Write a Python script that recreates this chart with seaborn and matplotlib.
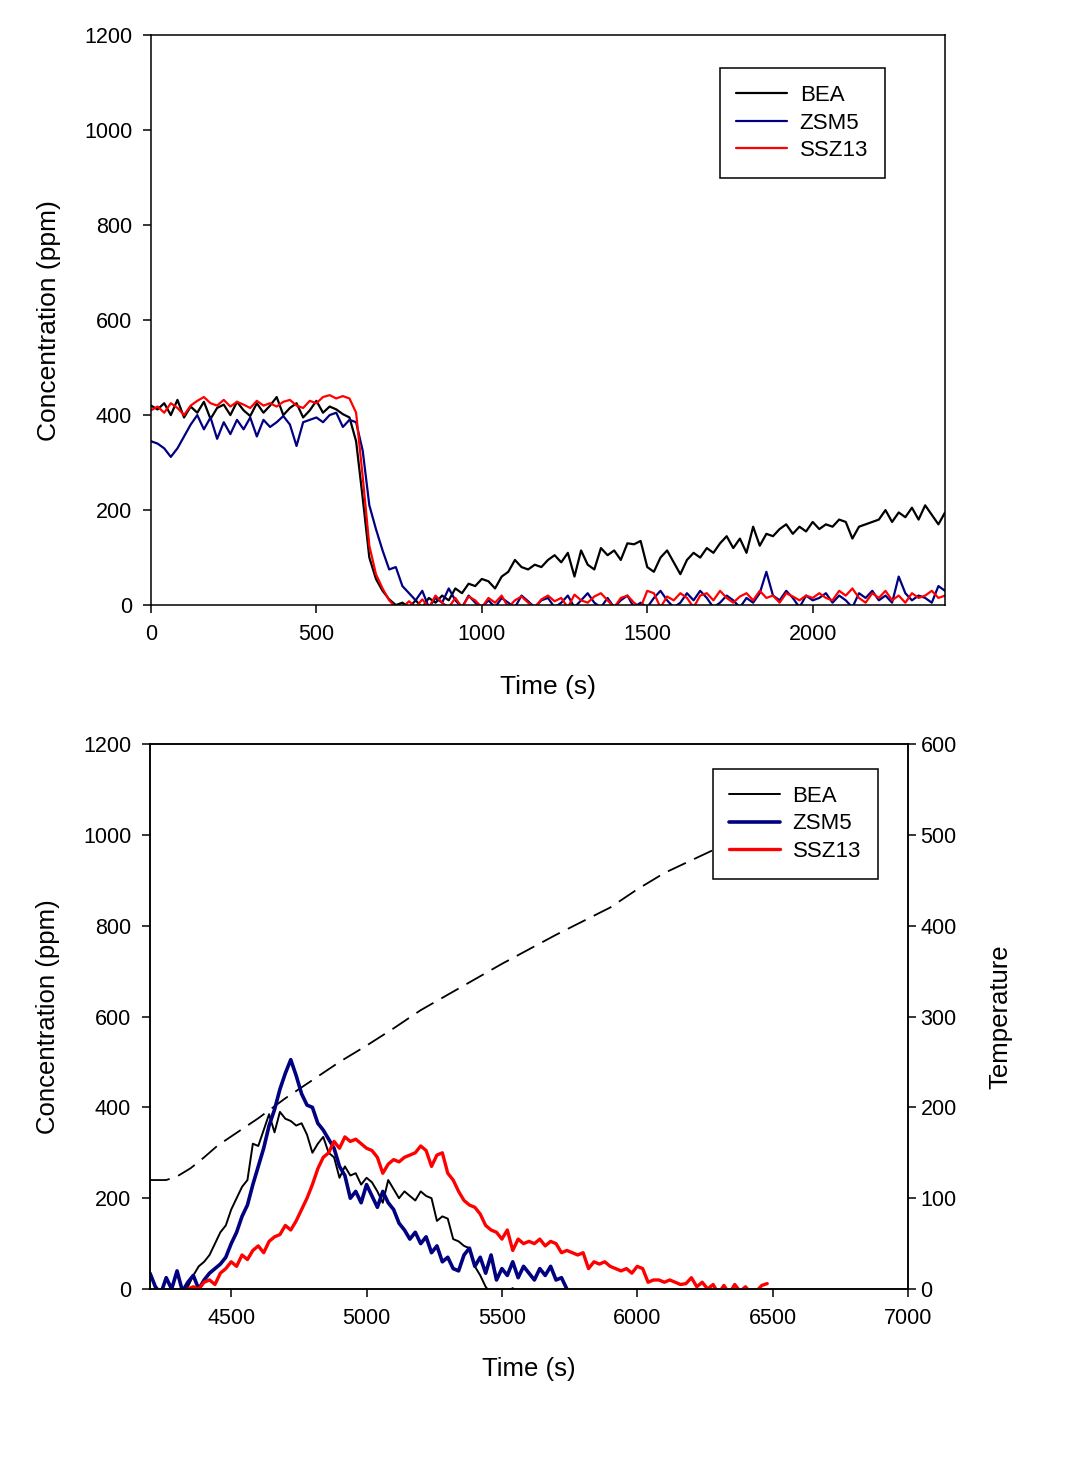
import numpy as np
import pandas as pd
import matplotlib
matplotlib.use("Agg")
import matplotlib.pyplot as plt
import seaborn as sns
from matplotlib.lines import Line2D

# ---------------- data: top panel (adsorption) ----------------
top_time = list(range(0, 2401, 20))

top_bea = [420, 412, 425, 400, 432, 395, 418, 405, 428, 392, 415, 422, 400, 428, 410,
           398, 425, 405, 420, 438, 400, 415, 425, 395, 410, 430, 405, 418, 412, 402,
           395, 345, 225, 100, 55, 30, 12, 0, 5, -5,
           10, -5, 15, 5, 20, 10, 35, 25, 45, 40, 55,
           50, 35, 60, 70, 95, 80, 75, 85, 80, 95,
           105, 90, 110, 60, 115, 85, 75, 120, 105, 115,
           95, 130, 128, 135, 80, 70, 100, 115, 90, 65,
           95, 110, 100, 120, 110, 130, 145, 120, 140, 110,
           165, 125, 150, 145, 160, 170, 150, 165, 155, 175,
           160, 170, 165, 180, 175, 140, 165, 170, 175, 180,
           200, 175, 195, 185, 205, 180, 210, 190, 170, 195]

top_zsm5 = [345, 340, 330, 312, 330, 355, 380, 400, 370, 395, 350, 385, 360, 390, 370,
            395, 355, 390, 375, 385, 398, 380, 335, 385, 390, 395, 385, 400, 405, 375,
            390, 385, 325, 210, 160, 115, 75, 80, 40, 25,
            10, 30, -5, 15, 5, 35, 10, -5, 20, 5, -5,
            10, -5, 15, 5, -5, 20, 8, -5, 10, 15,
            -5, 5, 20, -5, 10, 25, 5, -5, 15, -5,
            10, 20, -5, 5, -5, 15, 30, 10, -5, 5,
            25, 10, 30, 15, -5, 5, 20, 10, -5, 15,
            5, 25, 70, 20, 10, 30, 15, -5, 20, 10,
            15, 25, 5, 20, 10, -5, 25, 15, 30, 10,
            20, 5, 60, 25, 10, 20, 15, 5, 40, 30]

top_ssz13 = [410, 418, 405, 425, 415, 400, 420, 430, 438, 425, 420, 432, 418, 428, 422,
             415, 430, 420, 425, 418, 428, 432, 420, 415, 430, 425, 438, 442, 435, 440,
             435, 405, 270, 125, 65, 35, 10, -5, -5, 8,
             -5, 12, -5, 20, 5, -5, 15, -5, 18, 10, -5,
             15, 5, 20, -5, 10, 18, 5, -5, 12, 20,
             8, 15, -5, 22, 10, 5, 18, 25, 10, -5,
             15, 20, 5, -5, 30, 25, -5, 18, 10, 25,
             15, -5, 20, 25, 10, 30, 15, 5, 18, 25,
             10, 30, 15, 20, 5, 25, 18, 10, 20, 15,
             25, 15, 10, 30, 20, 35, 15, 5, 25, 15,
             30, 10, 20, 5, 25, 15, 20, 30, 15, 20]

# ---------------- data: bottom panel (TPD) ----------------
bot_time = list(range(4200, 6501, 20))
N = None
bot_bea = [-10, -5, -10, -5, -10, -5, 0, 5, 30, 50,
           60, 75, 100, 125, 140, 175, 200, 225, 240, 320,
           315, 350, 385, 345, 390, 375, 370, 360, 365, 340,
           300, 320, 335, 300, 290, 245, 270, 250, 255, 230,
           245, 235, 215, 190, 240, 220, 200, 215, 205, 195,
           215, 205, 200, 150, 160, 155, 110, 105, 95, 90,
           50, 30, 5, -10, 0, -10, -5, 2, -10] + [N] * 47

bot_zsm5 = [35, 5, -10, 25, 0, 40, -5, 15, 30, 0,
            20, 35, 45, 55, 70, 100, 125, 160, 185, 230,
            270, 310, 360, 395, 440, 475, 505, 470, 430, 405,
            400, 365, 350, 330, 310, 270, 250, 200, 215, 190,
            230, 205, 180, 215, 190, 175, 145, 130, 110, 125,
            100, 115, 80, 95, 60, 70, 45, 40, 75, 90,
            50, 70, 35, 75, 20, 45, 30, 60, 25, 50,
            35, 20, 45, 30, 50, 20, 25, 0] + [N] * 38

bot_ssz13 = [N, N, N, N, N, N, -5, 0, 5, 0,
             15, 20, 10, 35, 45, 60, 50, 75, 65, 85,
             95, 80, 105, 115, 120, 140, 130, 150, 175, 200,
             230, 265, 290, 300, 325, 310, 335, 325, 330, 320,
             310, 305, 290, 255, 275, 285, 280, 290, 295, 300,
             315, 305, 270, 295, 300, 255, 240, 215, 195, 185,
             180, 165, 140, 130, 125, 110, 130, 85, 110, 100,
             105, 100, 110, 95, 105, 100, 80, 85, 80, 75,
             80, 45, 60, 55, 60, 50, 45, 40, 45, 35,
             50, 45, 15, 20, 20, 15, 20, 15, 10, 12,
             25, 5, 15, 0, 10, -10, 8, -10, 10, -5,
             5, -10, -5, 8, 12, N]

temp_time = [4200, 4260, 4300, 4350, 4400, 4450, 4500, 4600, 4700, 4800, 4900, 5000,
             5100, 5200, 5300, 5400, 5500, 5600, 5700, 5800, 5900, 6000, 6100, 6200,
             6300, 6350]
temp_vals = [120, 120, 124, 133, 145, 158, 168, 188, 210, 230, 250, 268,
             287, 307, 324, 341, 358, 374, 390, 405, 420, 440, 458, 472,
             486, 494]

labels = ["BEA", "ZSM5", "SSZ13"]
colors = {"BEA": "#000000", "ZSM5": "#000080", "SSZ13": "#ff0000"}

# ---------------- style ----------------
sns.set_style("ticks")
plt.rcParams["font.family"] = ["Liberation Sans", "DejaVu Sans"]
plt.rcParams["axes.linewidth"] = 1.1
plt.rcParams["xtick.major.width"] = 1.1
plt.rcParams["ytick.major.width"] = 1.1
plt.rcParams["xtick.major.size"] = 6
plt.rcParams["ytick.major.size"] = 6
plt.rcParams["xtick.major.pad"] = 7.5
plt.rcParams["ytick.major.pad"] = 7.5
plt.rcParams["xtick.color"] = "black"
plt.rcParams["ytick.color"] = "black"
plt.rcParams["axes.edgecolor"] = "black"
plt.rcParams["axes.labelcolor"] = "black"
plt.rcParams["text.color"] = "black"

fig = plt.figure(figsize=(10.9, 14.64), dpi=100)

leg_kw = dict(fontsize=16, frameon=True, fancybox=False, edgecolor="black",
              framealpha=1, handlelength=2.3, labelspacing=0.3,
              borderpad=0.75, handletextpad=0.55, borderaxespad=0)

# ---------------- top panel ----------------
ax1 = fig.add_axes([0.1385, 0.5867, 0.7285, 0.3893])
n = len(top_time)
df_top = pd.DataFrame({
    "Time": top_time * 3,
    "Conc": top_bea + top_zsm5 + top_ssz13,
    "Sample": ["BEA"] * n + ["ZSM5"] * n + ["SSZ13"] * n,
})
sns.lineplot(data=df_top, x="Time", y="Conc", hue="Sample", hue_order=labels,
             palette=colors, estimator=None, sort=False, linewidth=1.6,
             legend=False, ax=ax1)
ax1.set_xlim(0, 2400)
ax1.set_ylim(0, 1200)
ax1.set_xticks([0, 500, 1000, 1500, 2000])
ax1.set_yticks([0, 200, 400, 600, 800, 1000, 1200])
ax1.tick_params(labelsize=15.5, top=False, right=False)
ax1.set_xlabel("Time (s)", fontsize=19, labelpad=22)
ax1.set_ylabel("Concentration (ppm)", fontsize=19, labelpad=16.5)
handles1 = [Line2D([], [], color=colors[k], lw=1.6) for k in labels]
leg1 = ax1.legend(handles1, labels, loc="upper right", bbox_to_anchor=(0.924, 0.942),
                  **leg_kw)
leg1.get_frame().set_linewidth(1.1)

# ---------------- bottom panel ----------------
ax2 = fig.add_axes([0.1376, 0.1195, 0.6954, 0.3723])
ax2t = ax2.twinx()

widths = {"BEA": 1.4, "ZSM5": 2.6, "SSZ13": 2.4}
series = {"BEA": bot_bea, "ZSM5": bot_zsm5, "SSZ13": bot_ssz13}
for k in labels:
    d = pd.DataFrame({"Time": bot_time, "Conc": series[k]}).dropna()
    sns.lineplot(data=d, x="Time", y="Conc", color=colors[k], linewidth=widths[k],
                 estimator=None, sort=False, ax=ax2)

dt = pd.DataFrame({"Time": temp_time, "Temp": temp_vals})
sns.lineplot(data=dt, x="Time", y="Temp", color="black", linewidth=1.3,
             estimator=None, sort=False, ax=ax2t)
ax2t.lines[0].set_dashes([11, 5])

ax2.set_zorder(ax2t.get_zorder() + 1)
ax2.patch.set_visible(False)

ax2.set_xlim(4200, 7000)
ax2.set_ylim(0, 1200)
ax2t.set_ylim(0, 600)
ax2.set_xticks([4500, 5000, 5500, 6000, 6500, 7000])
ax2.set_yticks([0, 200, 400, 600, 800, 1000, 1200])
ax2t.set_yticks([0, 100, 200, 300, 400, 500, 600])
ax2.tick_params(labelsize=15.5, top=False, right=False)
ax2t.tick_params(labelsize=15.5, right=True, pad=3)
ax2.set_xlabel("Time (s)", fontsize=18.5, labelpad=20)
ax2.set_ylabel("Concentration (ppm)", fontsize=18.5, labelpad=16.5)
ax2t.set_ylabel("Temperature", fontsize=18.5, labelpad=22.5)
handles2 = [Line2D([], [], color=colors[k], lw=widths[k]) for k in labels]
leg2 = ax2.legend(handles2, labels, loc="upper right", bbox_to_anchor=(0.960, 0.954),
                  **leg_kw)
leg2.get_frame().set_linewidth(1.1)

fig.savefig("out.png", dpi=100)
